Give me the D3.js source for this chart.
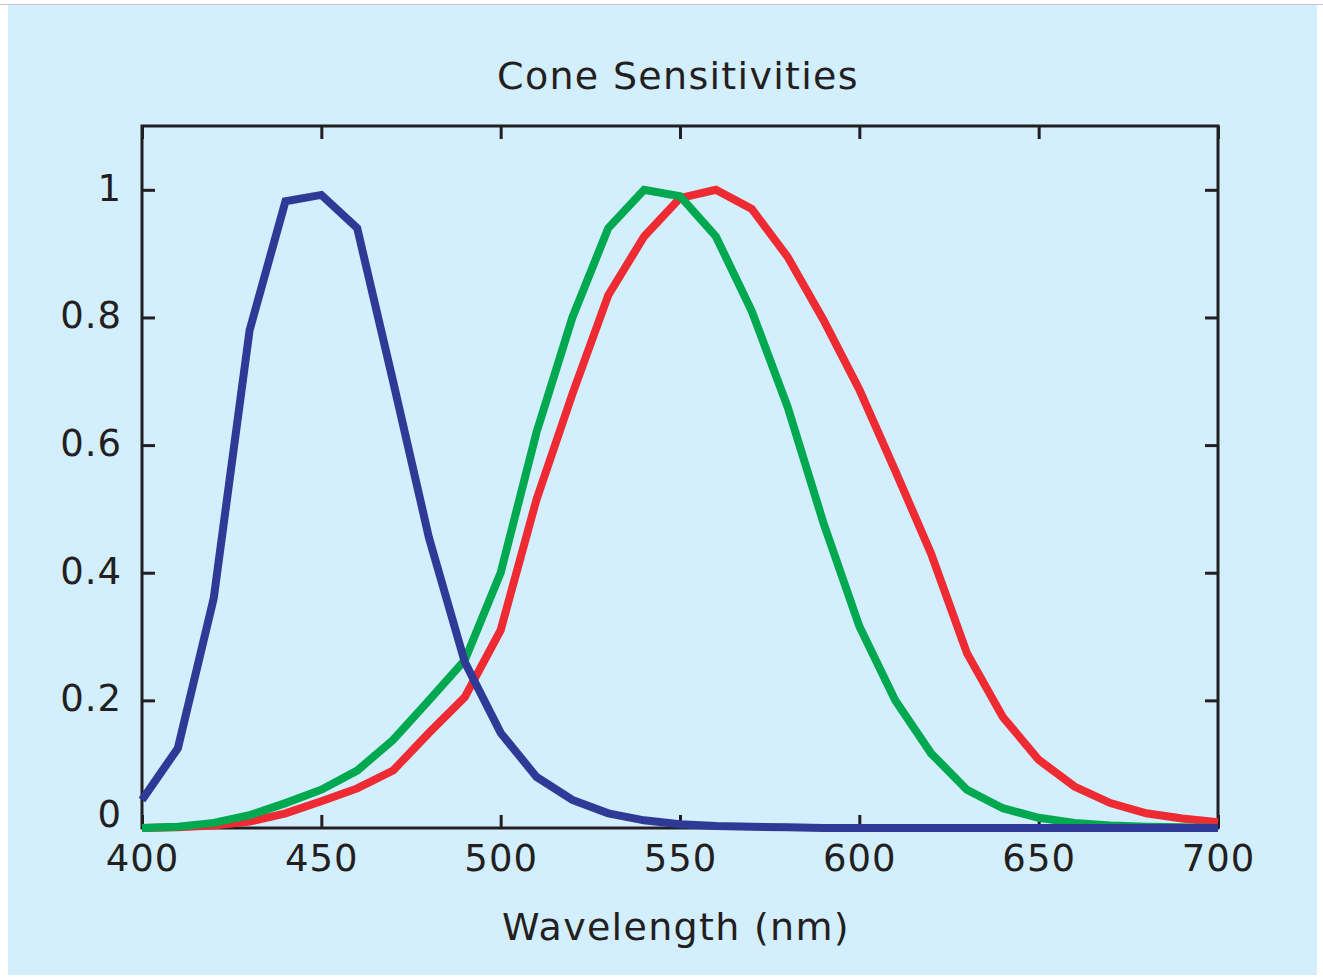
<!DOCTYPE html>
<html>
<head>
<meta charset="utf-8">
<script src="https://cdn.jsdelivr.net/npm/d3@7"></script>
<style>
  html, body { margin: 0; padding: 0; background: #ffffff; }
  svg { display: block; }
</style>
</head>
<body>
<svg id="chart" width="1323" height="978"></svg>
<script>
// ---- data ----
const wavelengths = [400,410,420,430,440,450,460,470,480,490,500,510,520,530,540,550,560,570,580,590,600,610,620,630,640,650,660,670,680,690,700];
const sCone = [0.044,0.125,0.36,0.78,0.982,0.992,0.94,0.70,0.455,0.26,0.149,0.080,0.044,0.023,0.012,0.006,0.003,0.002,0.001,0,0,0,0,0,0,0,0,0,0,0,0];
const mCone = [0,0.002,0.008,0.020,0.039,0.060,0.090,0.138,0.200,0.263,0.400,0.620,0.800,0.940,1.000,0.990,0.927,0.810,0.660,0.478,0.316,0.200,0.117,0.060,0.031,0.016,0.008,0.004,0.002,0.001,0];
const lCone = [0,0.001,0.004,0.010,0.023,0.042,0.062,0.090,0.149,0.205,0.310,0.515,0.680,0.835,0.927,0.987,1.000,0.970,0.895,0.796,0.687,0.560,0.430,0.274,0.174,0.107,0.065,0.039,0.023,0.015,0.009];
const xTickValues = [400,450,500,550,600,650,700];
const xTickLabels = ["400","450","500","550","600","650","700"];
const yTickValues = [0,0.2,0.4,0.6,0.8,1];
const yTickLabels = ["0","0.2","0.4","0.6","0.8","1"];
const titleText = "Cone Sensitivities";
const xLabelText = "Wavelength (nm)";

const series = [
  { name: "L", values: lCone, color: "#ee2a32" },
  { name: "M", values: mCone, color: "#00a84f" },
  { name: "S", values: sCone, color: "#2e3a96" }
];

// ---- layout ----
const W = 1323, H = 978;
const plot = { left: 142, right: 1218, top: 126, bottom: 828 };
const ink = "#231f20";
const font = "'DejaVu Sans', sans-serif";

const svg = d3.select("#chart");

// page background + panel
svg.append("rect").attr("x", 0).attr("y", 0).attr("width", W).attr("height", H).attr("fill", "#ffffff");
svg.append("rect").attr("x", 8).attr("y", 5).attr("width", W - 14).attr("height", H - 8).attr("fill", "#d3eefc");
svg.append("line").attr("x1", 0).attr("x2", W).attr("y1", 4.5).attr("y2", 4.5)
  .attr("stroke", "#c4c4c4").attr("stroke-width", 1);

const x = d3.scaleLinear().domain([400, 700]).range([plot.left, plot.right]);
const y = d3.scaleLinear().domain([0, 1.1]).range([plot.bottom, plot.top]);

const fmtY = (d) => yTickLabels[yTickValues.indexOf(d)];
const fmtX = (d) => xTickLabels[xTickValues.indexOf(d)];

function styleAxis(g) {
  g.select(".domain").remove();
  g.selectAll(".tick line").attr("stroke", ink).attr("stroke-width", 3);
  g.selectAll(".tick text").attr("fill", ink).attr("font-family", font).attr("font-size", 37)
    .attr("letter-spacing", 1);
}

// bottom axis with labels
svg.append("g").attr("transform", `translate(0,${plot.bottom})`)
  .call(d3.axisBottom(x).tickValues(xTickValues).tickFormat(fmtX).tickSize(-13).tickPadding(17))
  .call(styleAxis);
// top axis (ticks only)
svg.append("g").attr("transform", `translate(0,${plot.top})`)
  .call(d3.axisTop(x).tickValues(xTickValues).tickFormat("").tickSize(-13))
  .call(styleAxis);
// left axis with labels
const yAxisG = svg.append("g").attr("transform", `translate(${plot.left},0)`)
  .call(d3.axisLeft(y).tickValues(yTickValues).tickFormat(fmtY).tickSize(-13).tickPadding(20))
  .call(styleAxis);
yAxisG.selectAll(".tick text").attr("dy", (d) => d === 0 ? "-0.05em" : "0.28em");
// right axis (ticks only)
svg.append("g").attr("transform", `translate(${plot.right},0)`)
  .call(d3.axisRight(y).tickValues(yTickValues).tickFormat("").tickSize(-13))
  .call(styleAxis);

// frame
svg.append("rect")
  .attr("x", plot.left).attr("y", plot.top)
  .attr("width", plot.right - plot.left).attr("height", plot.bottom - plot.top)
  .attr("fill", "none").attr("stroke", ink).attr("stroke-width", 3);

// curves
const line = d3.line()
  .x((d, i) => x(wavelengths[i]))
  .y((d) => y(d));

svg.append("g").selectAll("path")
  .data(series)
  .join("path")
  .attr("d", (s) => line(s.values))
  .attr("fill", "none")
  .attr("stroke", (s) => s.color)
  .attr("stroke-width", 8)
  .attr("stroke-linejoin", "miter")
  .attr("stroke-linecap", "butt");

// title
svg.append("text")
  .attr("x", 678)
  .attr("y", 89)
  .attr("text-anchor", "middle")
  .attr("font-family", font)
  .attr("font-size", 38)
  .attr("letter-spacing", 1.3)
  .attr("fill", ink)
  .text(titleText);

// x label
svg.append("text")
  .attr("x", 676)
  .attr("y", 940)
  .attr("text-anchor", "middle")
  .attr("font-family", font)
  .attr("font-size", 38)
  .attr("letter-spacing", 1.3)
  .attr("fill", ink)
  .text(xLabelText);
</script>
</body>
</html>
